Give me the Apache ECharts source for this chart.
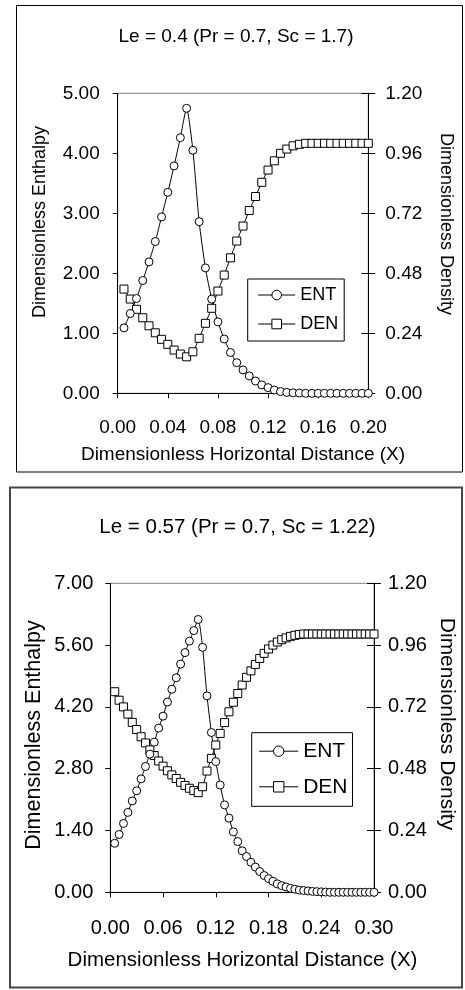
<!DOCTYPE html>
<html>
<head>
<meta charset="utf-8">
<script src="https://cdn.jsdelivr.net/npm/echarts@6/dist/echarts.min.js"></script>
<style>
html,body{margin:0;padding:0;background:#fff;}
#c{width:465px;height:990px;}
</style>
</head>
<body>
<div id="c"></div>
<script>
// ---------- Chart 1: Le = 0.4 ----------
var x1 = [0.005,0.010,0.015,0.020,0.025,0.030,0.035,0.040,0.045,0.050,
          0.055,0.060,0.065,0.070,0.075,0.080,0.085,0.090,0.095,0.100,
          0.105,0.110,0.115,0.120,0.125,0.130,0.135,0.140,0.145,0.150,
          0.155,0.160,0.165,0.170,0.175,0.180,0.185,0.190,0.195,0.200];
var ent1 = [1.09,1.33,1.58,1.88,2.19,2.53,2.94,3.35,3.79,4.26,
            4.75,4.05,2.86,2.09,1.57,1.19,0.905,0.68,0.51,0.39,
            0.29,0.205,0.14,0.095,0.055,0.03,0.015,0.008,0.004,0,
            0,0,0,0,0,0,0,0,0,0];
var den1 = [0.417,0.377,0.336,0.302,0.270,0.242,0.216,0.196,0.173,0.157,
            0.146,0.166,0.220,0.280,0.340,0.409,0.473,0.542,0.609,0.669,
            0.731,0.787,0.844,0.893,0.930,0.960,0.977,0.990,0.996,1.0,
            1.0,1.0,1.0,1.0,1.0,1.0,1.0,1.0,1.0,1.0];
var title1 = 'Le = 0.4 (Pr = 0.7, Sc = 1.7)';

// ---------- Chart 2: Le = 0.57 ----------
var x2 = [0.005,0.010,0.015,0.020,0.025,0.030,0.035,0.040,0.045,0.050,
          0.055,0.060,0.065,0.070,0.075,0.080,0.085,0.090,0.095,0.100,
          0.105,0.110,0.115,0.120,0.125,0.130,0.135,0.140,0.145,0.150,
          0.155,0.160,0.165,0.170,0.175,0.180,0.185,0.190,0.195,0.200,
          0.205,0.210,0.215,0.220,0.225,0.230,0.235,0.240,0.245,0.250,
          0.255,0.260,0.265,0.270,0.275,0.280,0.285,0.290,0.295,0.300];
var ent2 = [1.11,1.31,1.56,1.81,2.07,2.30,2.57,2.85,3.13,3.40,
            3.72,3.99,4.31,4.60,4.86,5.17,5.43,5.69,5.93,6.18,
            5.55,4.45,3.62,2.96,2.43,1.98,1.68,1.37,1.15,0.94,
            0.81,0.68,0.57,0.47,0.38,0.31,0.25,0.19,0.15,0.12,
            0.09,0.07,0.05,0.04,0.03,0.02,0.015,0.01,0.005,0,
            0,0,0,0,0,0,0,0,0,0];
var den2 = [0.779,0.746,0.720,0.692,0.660,0.632,0.604,0.580,0.553,0.531,
            0.510,0.490,0.472,0.456,0.442,0.427,0.415,0.404,0.395,0.387,
            0.410,0.471,0.520,0.572,0.617,0.659,0.701,0.738,0.772,0.805,
            0.835,0.860,0.885,0.908,0.928,0.945,0.960,0.972,0.981,0.988,
            0.994,0.998,1.001,1.003,1.003,1.003,1.003,1.003,1.003,1.003,
            1.003,1.003,1.003,1.003,1.003,1.003,1.003,1.003,1.003,1.003];
var title2 = 'Le = 0.57 (Pr = 0.7, Sc = 1.22)';

var xName = 'Dimensionless Horizontal Distance (X)';
var yLeftName = 'Dimensionless Enthalpy';
var yRightName = 'Dimensionless Density';
var seriesNames = ['ENT', 'DEN'];

var FF = '"Liberation Sans", Arial, sans-serif';

function pairs(xs, ys) { return xs.map(function (x, i) { return [x, ys[i]]; }); }
function fmt2(v) { return v.toFixed(2); }

function xAx(grid, max, interval, fs, margin) {
  return {
    type: 'value', gridIndex: grid, min: 0, max: max, interval: interval,
    axisLine: { show: true, onZero: false, lineStyle: { color: '#000', width: 1 } },
    axisTick: { show: true, length: 5, lineStyle: { color: '#000' } },
    axisLabel: { formatter: fmt2, fontSize: fs, fontFamily: FF, color: '#000', margin: margin },
    splitLine: { show: false }
  };
}
function yAx(grid, max, interval, pos, fs, margin, inside) {
  return {
    type: 'value', gridIndex: grid, min: 0, max: max, interval: interval, position: pos,
    axisLine: { show: !inside, onZero: false, lineStyle: { color: '#000', width: 1 } },
    axisTick: { show: true, inside: !!inside, length: pos === 'right' ? 7 : 5, lineStyle: { color: '#000' } },
    axisLabel: { show: !inside, formatter: fmt2, fontSize: fs, fontFamily: FF, color: '#000', margin: margin },
    splitLine: { show: false }
  };
}
function ser(name, xs, ys, xi, yi, sym) {
  return {
    name: name, type: 'line', xAxisIndex: xi, yAxisIndex: yi,
    data: pairs(xs, ys),
    symbol: sym, symbolSize: 8, showAllSymbol: true, clip: false,
    smooth: 0.2,
    itemStyle: { color: '#fff', borderColor: '#000', borderWidth: 1 },
    lineStyle: { color: '#000', width: 1 },
    emphasis: { disabled: true },
    animation: false
  };
}
function txt(t, x, y, fs, rot) {
  return {
    type: 'text', x: x, y: y, rotation: rot || 0, silent: true,
    style: { text: t, x: 0, y: 0, align: 'center', verticalAlign: 'middle',
             fontSize: fs, fontFamily: FF, fill: '#000' }
  };
}
function leg(left, top, padding, iw, ih, gap, fs) {
  return {
    orient: 'vertical', left: left, top: top, padding: padding,
    itemWidth: iw, itemHeight: ih, itemGap: gap, selectedMode: false,
    borderColor: '#000', borderWidth: 1, backgroundColor: '#fff',
    itemStyle: { color: '#fff', borderColor: '#000', borderWidth: 1 },
    lineStyle: { color: '#000', width: 1 },
    textStyle: { fontSize: fs, fontFamily: FF, color: '#000' },
    data: seriesNames
  };
}

var chart = echarts.init(document.getElementById('c'), null, { renderer: 'canvas' });
chart.setOption({
  animation: false,
  backgroundColor: '#fff',
  grid: [
    { left: 117.7, top: 93.3, width: 250.6, height: 300, show: true, borderColor: '#808080', borderWidth: 1, backgroundColor: 'transparent' },
    { left: 110.3, top: 583.3, width: 263.7, height: 309, show: true, borderColor: '#808080', borderWidth: 1, backgroundColor: 'transparent' }
  ],
  xAxis: [ xAx(0, 0.2, 0.04, 19, 25), xAx(1, 0.3, 0.06, 20, 26) ],
  yAxis: [
    yAx(0, 5, 1, 'left', 19, 18),
    yAx(0, 1.2, 0.24, 'right', 19, 17),
    yAx(0, 1.2, 0.24, 'right', 19, 17, true),
    yAx(1, 7, 1.4, 'left', 20, 17),
    yAx(1, 1.2, 0.24, 'right', 20, 14),
    yAx(1, 1.2, 0.24, 'right', 20, 14, true)
  ],
  legend: [
    leg(247.7, 279, [7, 6, 8, 10], 37, 12, 11, 18),
    leg(251.7, 732.7, [8, 5, 9, 7], 39, 13, 14.6, 21)
  ],
  series: [
    ser(seriesNames[1], x1, den1, 0, 1, 'rect'),
    ser(seriesNames[0], x1, ent1, 0, 0, 'circle'),
    ser(seriesNames[1], x2, den2, 1, 4, 'rect'),
    ser(seriesNames[0], x2, ent2, 1, 3, 'circle')
  ],
  graphic: [
    { type: 'rect', shape: { x: 16.5, y: 5.5, width: 446, height: 466.5 }, style: { fill: 'none', stroke: '#000', lineWidth: 1 }, silent: true },
    { type: 'rect', shape: { x: 10, y: 487.5, width: 452, height: 500 }, style: { fill: 'none', stroke: '#444', lineWidth: 2 }, silent: true },
    txt(title1, 236, 37, 19),
    txt(xName, 243, 455, 19),
    txt(yLeftName, 40, 222, 18, Math.PI / 2),
    txt(yRightName, 446, 224, 18, -Math.PI / 2),
    txt(title2, 237.5, 527.5, 20.5),
    txt(xName, 242.5, 960, 20.5),
    txt(yLeftName, 34, 735, 21.5, Math.PI / 2),
    txt(yRightName, 447, 724, 21, -Math.PI / 2)
  ]
});
</script>
</body>
</html>
